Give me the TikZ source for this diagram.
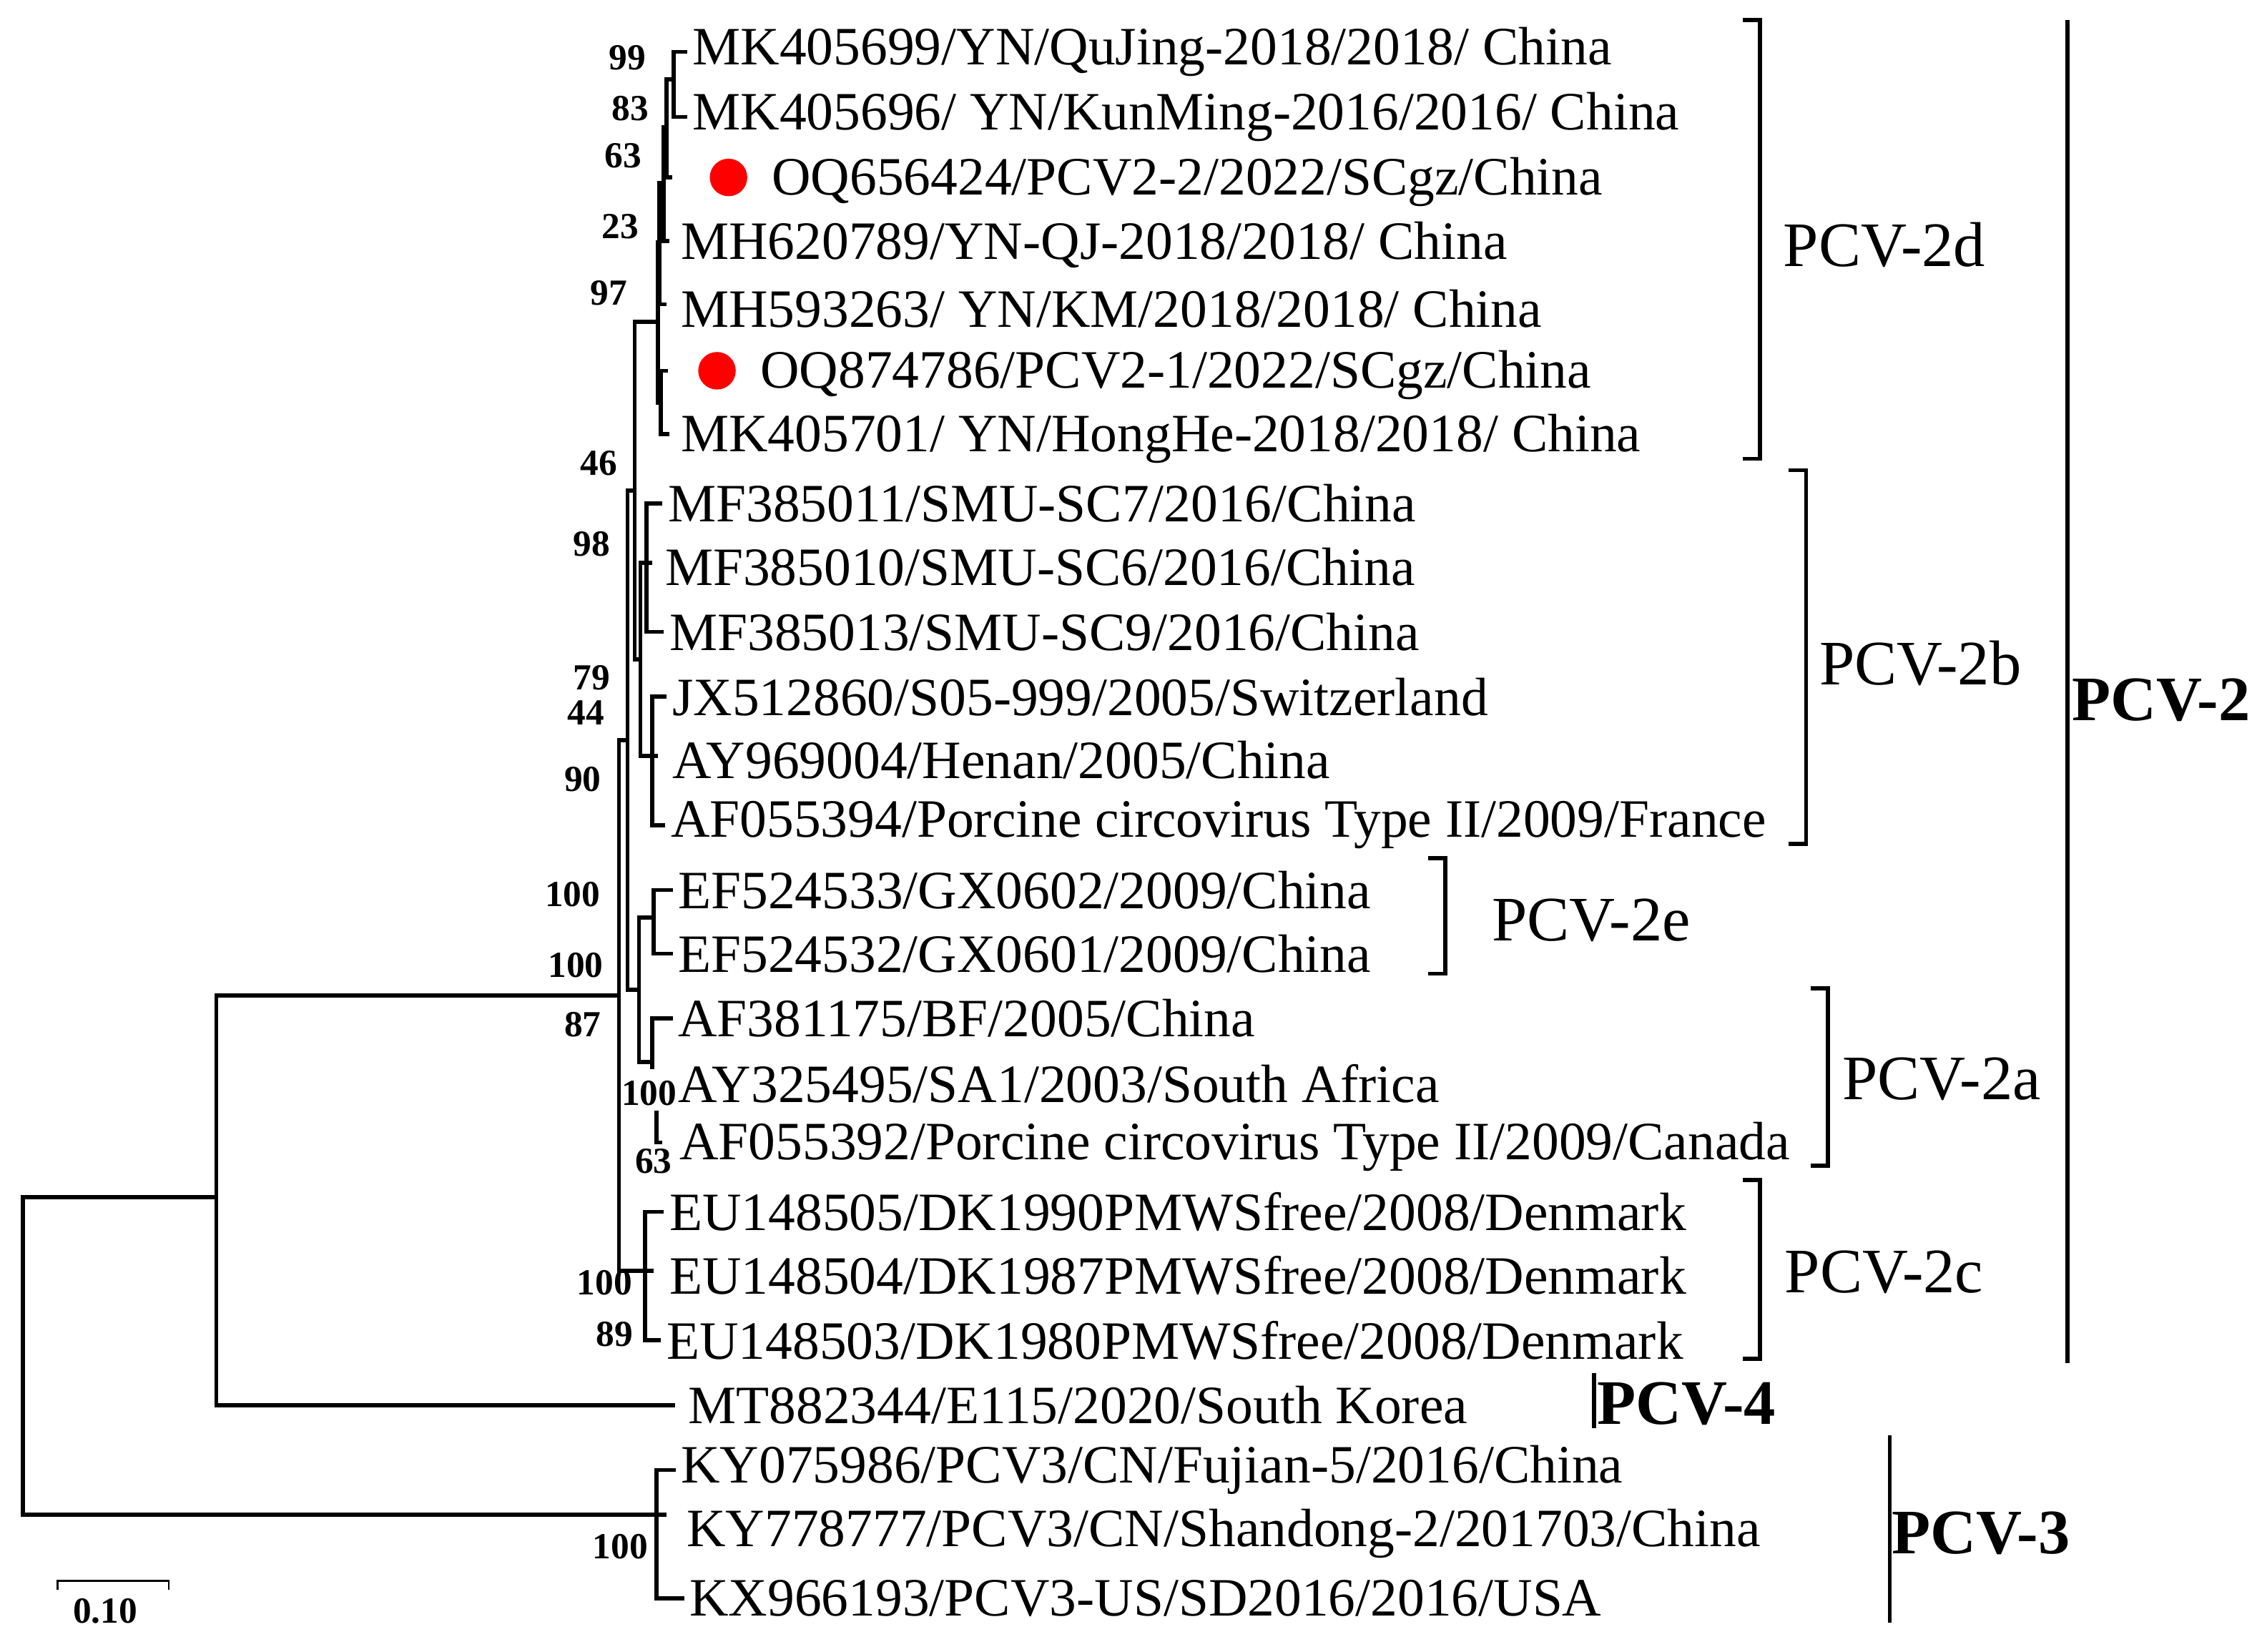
\documentclass[tikz,border=0pt]{standalone}
\usepackage{fontspec}
\setmainfont{Liberation Serif}
\begin{document}
\begin{tikzpicture}[x=0.02cm,y=-0.02cm,
  br/.style={line width=1.6pt},
  lf/.style={anchor=west,inner sep=1pt,yshift=-3*0.02cm,font=\fontsize{21.3}{22}\selectfont},
  bs/.style={font=\bfseries\fontsize{14.5}{15}\selectfont,inner sep=0pt},
  cl/.style={anchor=west,font=\fontsize{25}{26}\selectfont},
  clb/.style={anchor=west,font=\bfseries\fontsize{25}{26}\selectfont},
  dot/.style={circle,fill=red,inner sep=0pt,minimum size=26*0.02cm}]
\useasboundingbox (0,0) rectangle (1568,1145);
% leaves
\node[lf] (l1) at (478,33) {MK405699/YN/QuJing-2018/2018/ China};
\node[lf] (l2) at (478,78) {MK405696/ YN/KunMing-2016/2016/ China};
\node[dot] (d3) at (505,123) {};
\node[lf] (l3) at (533,123) {OQ656424/PCV2-2/2022/SCgz/China};
\node[lf] (l4) at (470,167) {MH620789/YN-QJ-2018/2018/ China};
\node[lf] (l5) at (470,211) {MH593263/ YN/KM/2018/2018/ China};
\node[dot] (d6) at (497,257) {};
\node[lf] (l6) at (525,257) {OQ874786/PCV2-1/2022/SCgz/China};
\node[lf] (l7) at (470,301) {MK405701/ YN/HongHe-2018/2018/ China};
\node[lf] (l8) at (461,346) {MF385011/SMU-SC7/2016/China};
\node[lf] (l9) at (459,390) {MF385010/SMU-SC6/2016/China};
\node[lf] (l10) at (462,435) {MF385013/SMU-SC9/2016/China};
\node[lf] (l11) at (464,480) {JX512860/S05-999/2005/Switzerland};
\node[lf] (l12) at (464,524) {AY969004/Henan/2005/China};
\node[lf] (l13) at (463,569) {AF055394/Porcine circovirus Type II/2009/France};
\node[lf] (l14) at (468,614) {EF524533/GX0602/2009/China};
\node[lf] (l15) at (468,658) {EF524532/GX0601/2009/China};
\node[lf] (l16) at (468,703) {AF381175/BF/2005/China};
\node[lf] (l17) at (468,748) {AY325495/SA1/2003/South Africa};
\node[lf] (l18) at (469,792) {AF055392/Porcine circovirus Type II/2009/Canada};
\node[lf] (l19) at (462,837) {EU148505/DK1990PMWSfree/2008/Denmark};
\node[lf] (l20) at (462,881) {EU148504/DK1987PMWSfree/2008/Denmark};
\node[lf] (l21) at (460,926) {EU148503/DK1980PMWSfree/2008/Denmark};
\node[lf] (l22) at (475,971) {MT882344/E115/2020/South Korea};
\node[lf] (l23) at (470,1016) {KY075986/PCV3/CN/Fujian-5/2016/China};
\node[lf] (l24) at (474,1060) {KY778777/PCV3/CN/Shandong-2/201703/China};
\node[lf] (l25) at (476,1105) {KX966193/PCV3-US/SD2016/2016/USA};
% internal nodes
\coordinate (n99) at (467,55);
\coordinate (n83) at (462,88);
\coordinate (n63) at (460,127);
\coordinate (n23) at (457,168);
\coordinate (n67) at (458,279);
\coordinate (n97) at (456,223);
\coordinate (nMF) at (448,390);
\coordinate (nJX) at (452,524);
\coordinate (n2b) at (444,457);
\coordinate (n46) at (440,340);
\coordinate (n2e) at (453,636);
\coordinate (n2ai) at (455,780);
\coordinate (n2a) at (452,722);
\coordinate (n2ea) at (443,686);
\coordinate (n98) at (435,513);
\coordinate (n2c) at (447,881);
\coordinate (nP2) at (429,690);
\coordinate (n24) at (150,830);
\coordinate (n3) at (455,1050);
\coordinate (root) at (16,940);
\newcommand\edge[2]{\draw[br] (#1) |- ([xshift=-1pt]#2.west);}
\newcommand\iedge[2]{\draw[br] (#1) |- (#2);}
\edge{n99}{l1}\edge{n99}{l2}
\iedge{n83}{n99}\draw[br] (n83) |- (466,123);
\iedge{n63}{n83}\draw[br] (n63) |- (464,167);
\iedge{n23}{n63}\draw[br] (n23) |- (462,211);
\draw[br] (n67) |- (463,257); \draw[br] (n67) |- (464,301);
\iedge{n97}{n23}\iedge{n97}{n67}
\iedge{n46}{n97}\iedge{n46}{n2b}
\edge{nMF}{l8}\edge{nMF}{l10}\draw[br] (nMF) -- (452,390);
\edge{nJX}{l11}\edge{nJX}{l13}\draw[br] (nJX) -- (456,524);
\iedge{n2b}{nMF}\iedge{n2b}{nJX}
\edge{n2e}{l14}\edge{n2e}{l15}
\edge{n2a}{l16}\draw[br] (n2a) -- (452,741);
\draw[br] (n2ai) -- (455,770); \draw[br] (n2ai) |- (459,792);
\iedge{n2ea}{n2e}\draw[br] (n2ea) |- (452,736);
\iedge{n98}{n46}\iedge{n98}{n2ea}
\edge{n2c}{l19}\edge{n2c}{l21}\draw[br] (n2c) -- (453,881);
\iedge{nP2}{n98}\iedge{nP2}{n2c}
\iedge{n24}{nP2}\draw[br] (n24) |- ([xshift=-4pt]l22.west);
\edge{n3}{l23}\edge{n3}{l25}\draw[br] (n3) -- (462,1050);
\iedge{root}{n24}\iedge{root}{n3}
% bootstrap
\node[bs] at (435,40) {99};
\node[bs] at (437,75) {83};
\node[bs] at (432,108) {63};
\node[bs] at (430,157) {23};
\node[bs] at (422,203) {97};
\node[bs] at (415,321) {46};
\node[bs] at (410,377) {98};
\node[bs] at (410,470) {79};
\node[bs] at (406,494) {44};
\node[bs] at (404,540) {90};
\node[bs] at (397,620) {100};
\node[bs] at (399,669) {100};
\node[bs] at (404,710) {87};
\node[bs] at (450,758) {100};
\node[bs] at (453,805) {63};
\node[bs] at (419,889) {100};
\node[bs] at (426,925) {89};
\node[bs] at (430,1072) {100};
% clades
\draw[br] (1208,14) -| (1220,318) -- (1208,318);
\node[cl] (c2d) at (1230,170) {PCV-2d};
\draw[br] (1240,326) -| (1252,585) -- (1240,585);
\node[cl] (c2b) at (1255,460) {PCV-2b};
\draw[br] (990,595) -| (1002,675) -- (990,675);
\node[cl] (c2e) at (1028,638) {PCV-2e};
\draw[br] (1255,685) -| (1267,808) -- (1255,808);
\node[cl] (c2a) at (1271,748) {PCV-2a};
\draw[br] (1208,818) -| (1220,942) -- (1208,942);
\node[cl] (c2c) at (1231,882) {PCV-2c};
\draw[br] (1433,14) -- (1433,945);
\node[clb] (c2) at (1430,485) {PCV-2};
\draw[br] (1105,952) -- (1105,990);
\node[clb] (c4) at (1101,973) {PCV-4};
\draw[br] (1310,995) -- (1310,1125);
\node[clb] (c3) at (1305,1063) {PCV-3};
% scale
\draw[line width=0.8pt] (40,1102) -- (40,1096) -- (117,1096) -- (117,1102);
\node[bs] (sc) at (73,1117) {0.10};
\end{tikzpicture}
\end{document}
